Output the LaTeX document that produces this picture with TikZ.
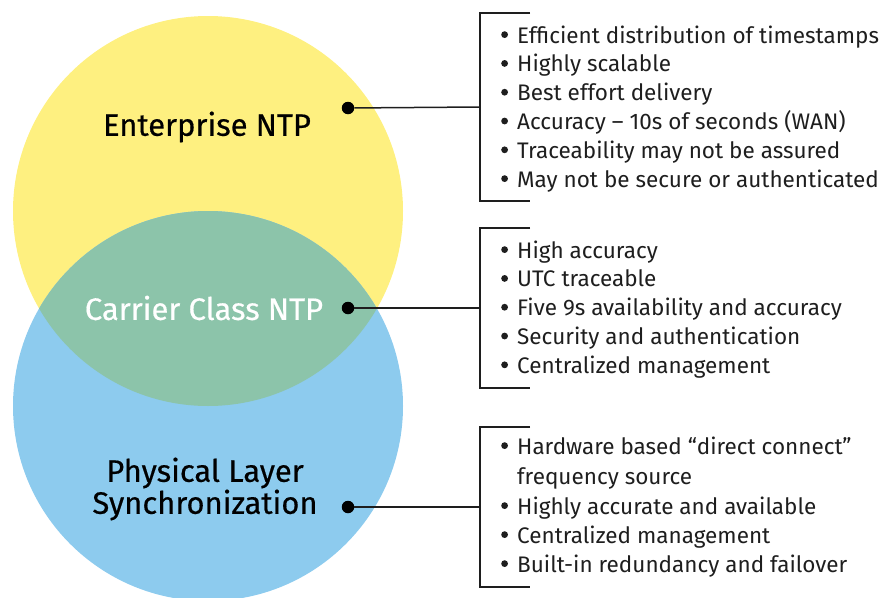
\documentclass[tikz,border=0pt]{standalone}
\usepackage{fontspec}
\setmainfont{Fira Sans}
\newfontfamily\headfont[FakeBold=0.5]{Fira Sans}
\definecolor{venyellow}{RGB}{254,240,128}
\definecolor{venblue}{RGB}{141,203,238}
\definecolor{vengreen}{RGB}{140,196,170}
\definecolor{ink}{RGB}{30,30,30}
\newcommand{\bul}{\makebox[17pt][l]{\hspace*{1pt}\raisebox{0.42ex}{\tikz\fill[ink] (0,0) circle (3.4pt);}}}
\newcommand{\cont}{\hspace*{17pt}}

\begin{document}
\begin{tikzpicture}[x=1pt,y=-1pt,
  lbl/.style={font=\headfont\fontsize{31}{32}\selectfont, align=center, inner sep=0pt},
  item/.style={anchor=base west, inner sep=0pt, font=\fontsize{22.5}{24}\selectfont, text=ink},
  dot/.style={circle, fill=black, inner sep=0pt, minimum size=12.5pt},
  link/.style={line width=1.5pt, draw=ink},
  bracket/.style={line width=1.5pt, draw=ink},
]
\useasboundingbox (0,0) rectangle (886,597);

% overlapping circles with their common lens
\begin{scope}
  \clip (0,0) rectangle (886,597);
  \fill[venyellow] (208,211) circle (195);
  \fill[venblue] (208,406) circle (195);
  \clip (208,211) circle (195);
  \fill[vengreen] (208,406) circle (195);
\end{scope}

% circle labels
\node[lbl] (ent) at (207,127) {Enterprise NTP};
\node[lbl, text=white] (car) at (204,308) {Carrier Class NTP};
\node[lbl] (phy) at (205,489) {Physical Layer\\Synchronization};

% markers
\node[dot] (d1) at (348,108) {};
\node[dot] (d2) at (348,308) {};
\node[dot] (d3) at (348,507) {};

\coordinate (b1) at (480,107);
\coordinate (b2) at (480,308);
\coordinate (b3) at (480,507);

\draw[link] (d1) -- (b1);
\draw[link] (d2) -- (b2);
\draw[link] (d3) -- (b3);

% brackets
\draw[bracket] (530,13) -- (480,13) -- (480,201) -- (530,201);
\draw[bracket] (530,228) -- (480,228) -- (480,388) -- (530,388);
\draw[bracket] (530,427) -- (480,427) -- (480,587) -- (530,587);

% bullet lists
\foreach \t [count=\i] in {Efficient distribution of timestamps, Highly scalable,
    Best effort delivery, Accuracy – 10s of seconds (WAN),
    Traceability may not be assured, May not be secure or authenticated}
  \node[item] (a\i) at (500,{43+28.8*(\i-1)}) {\bul\t};
\foreach \t [count=\i] in {High accuracy, UTC traceable,
    Five 9s availability and accuracy, Security and authentication,
    Centralized management}
  \node[item] (b\i) at (500,{258+28.8*(\i-1)}) {\bul\t};
\node[item] (c1) at (500,454) {\bul Hardware based “direct connect”};
\node[item] (c2) at (500,484) {\cont frequency source};
\node[item] (c3) at (500,514) {\bul Highly accurate and available};
\node[item] (c4) at (500,543) {\bul Centralized management};
\node[item] (c5) at (500,572) {\bul Built-in redundancy and failover};
\end{tikzpicture}
\end{document}
